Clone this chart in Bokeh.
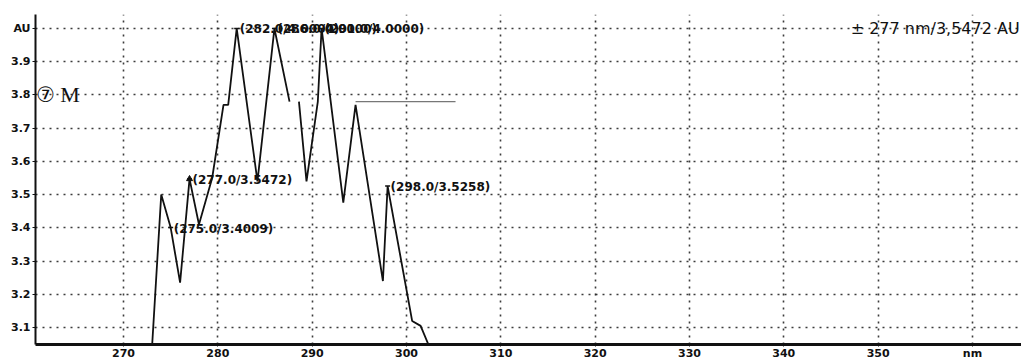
from bokeh.plotting import figure
from bokeh.models import FixedTicker, Range1d
from bokeh.core.properties import value
from bokeh.embed import file_html
from bokeh.resources import INLINE

# Absorbance spectrum trace (wavelength in nm, absorbance in AU)
wavelength_nm = [273.0, 274.0, 275.0, 276.0, 277.0, 278.0, 279.4, 280.6, 281.1,
                 282.0, 284.2, 286.0, 287.6, float("nan"), 288.6, 289.4, 290.6,
                 291.0, 293.3, 294.6, 297.5, 298.0, 300.6, 301.5, 302.6]
absorbance_au = [3.03, 3.50, 3.4009, 3.235, 3.5472, 3.41, 3.55, 3.77, 3.77,
                 4.0000, 3.54, 4.0000, 3.78, float("nan"), 3.78, 3.54, 3.78,
                 4.0000, 3.476, 3.77, 3.24, 3.5258, 3.12, 3.105, 3.03]

# Labelled peak / valley readings
label_nm = [275.0, 277.0, 282.0, 286.0, 291.0, 298.0]
label_au = [3.4009, 3.5472, 4.0000, 4.0000, 4.0000, 3.5258]
label_text = ["(275.0/3.4009)", "(277.0/3.5472)", "(282.0/4.0000)",
              "(286.0/4.0000)", "(291.0/4.0000)", "(298.0/3.5258)"]

# Cursor reading
cursor_nm = 277
cursor_au = 3.5472

# Reference baseline drawn from the last shoulder
baseline_nm = [294.6, 305.2]
baseline_au = [3.78, 3.78]

# Axis ticks
x_ticks = [270, 280, 290, 300, 310, 320, 330, 340, 350, 360]
x_tick_labels = ["270", "280", "290", "300", "310", "320", "330", "340", "350", "nm"]
y_ticks = [3.1, 3.2, 3.3, 3.4, 3.5, 3.6, 3.7, 3.8, 3.9, 4.0]
y_tick_labels = ["3.1", "3.2", "3.3", "3.4", "3.5", "3.6", "3.7", "3.8", "3.9", "AU"]

p = figure(width=1021, height=362, output_backend="svg", toolbar_location=None,
           x_range=Range1d(260.67, 365.2), y_range=Range1d(3.049, 4.042),
           min_border_left=35, min_border_right=0, min_border_top=14,
           min_border_bottom=14)
p.outline_line_color = None
p.background_fill_color = "white"
p.border_fill_color = "white"

# axes
p.xaxis.ticker = FixedTicker(ticks=x_ticks)
p.xaxis.major_label_overrides = {t: s for t, s in zip(x_ticks, x_tick_labels)}
p.yaxis.ticker = FixedTicker(ticks=y_ticks)
p.yaxis.major_label_overrides = {t: s for t, s in zip(y_ticks, y_tick_labels)}
for ax in (p.xaxis, p.yaxis):
    ax.major_label_text_font = "DejaVu Sans"
    ax.major_label_text_font_style = "bold"
    ax.major_label_text_color = "#111111"
    ax.axis_line_color = "#111111"
    ax.major_tick_line_color = "#111111"
    ax.minor_tick_line_color = None
    ax.major_tick_in = 0
p.xaxis.axis_line_width = 3
p.yaxis.axis_line_width = 2
p.xaxis.major_label_text_font_size = "11px"
p.yaxis.major_label_text_font_size = "11px"
p.xaxis.major_tick_out = 2
p.xaxis.major_label_standoff = 0
p.yaxis.major_tick_out = 3
p.yaxis.major_label_standoff = 2

# dotted grid
for g in (p.xgrid, p.ygrid):
    g.grid_line_color = "#1a1a1a"
    g.grid_line_dash = "2 5"
    g.grid_line_width = 1.6
    g.grid_line_alpha = 0.85
p.xgrid.ticker = FixedTicker(ticks=x_ticks)
p.ygrid.ticker = FixedTicker(ticks=y_ticks)

# baseline and spectrum
p.line(baseline_nm, baseline_au, line_color="#777777", line_width=1.2)
p.line(wavelength_nm, absorbance_au, line_color="#111111", line_width=1.8)

# peak markers and labels
p.scatter([cursor_nm], [cursor_au], marker="triangle", size=6,
          fill_color="#111111", line_color="#111111")
p.scatter(label_nm, label_au, marker="dash", size=5, line_color="#111111",
          line_width=1.5)
p.text(label_nm, label_au, text=label_text, x_offset=3, y_offset=1,
       text_font=value("DejaVu Sans"), text_font_style="bold",
       text_font_size="12px", text_baseline="middle", text_align="left",
       text_color="#111111")

# cursor read-out in the upper right
p.text([365.0], [4.0], text=["\u00b1 %d nm/3,5472 AU" % cursor_nm],
       text_font=value("DejaVu Sans"), text_font_size="16px",
       text_baseline="middle", text_align="right", text_color="#111111")

# handwritten note by the axis
p.text([260.75], [3.8], text=["\u2466"], text_font=value("DejaVu Sans"),
       text_font_size="21px", text_baseline="middle", text_align="left",
       text_color="#111111")
p.text([263.3], [3.8], text=["M"], text_font=value("Liberation Serif"),
       text_font_size="22px", text_baseline="middle", text_align="left",
       text_color="#111111")

open("out.html", "w").write(file_html(p, INLINE))
